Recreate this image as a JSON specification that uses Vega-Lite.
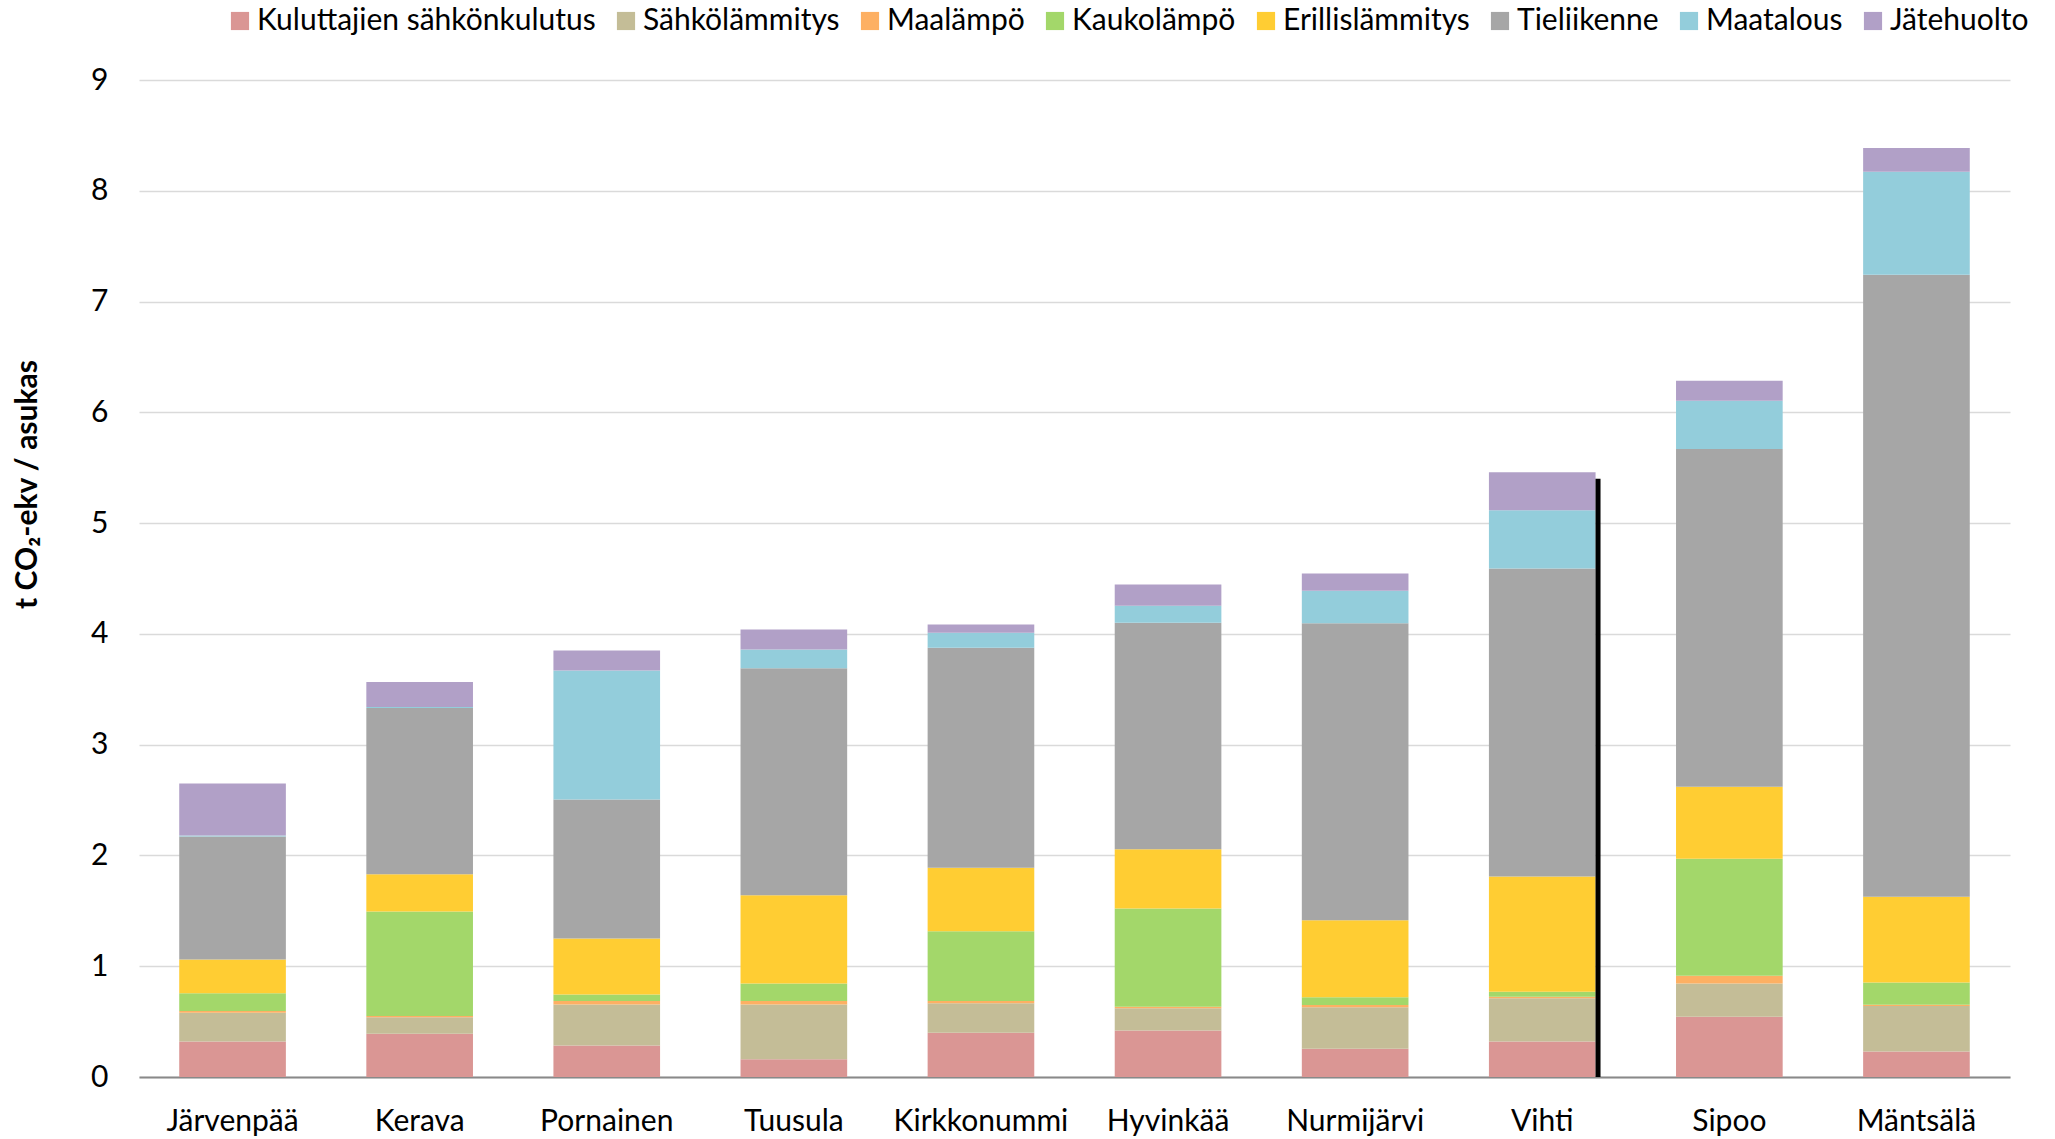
{
  "$schema": "https://vega.github.io/schema/vega-lite/v6.json",
  "autosize": {"type": "none"},
  "width": 1871,
  "height": 997,
  "padding": {"left": 139, "top": 80, "right": 45, "bottom": 62},
  "background": "white",
  "config": {
    "font": "Lato",
    "view": {"stroke": null},
    "axis": {"labelFont": "Lato", "titleFont": "Lato", "labelColor": "#000000", "titleColor": "#000000"},
    "legend": {"labelFont": "Lato"}
  },
  "datasets": {
    "paastot": [
      {"kunta": "Järvenpää", "sektori": "Kuluttajien sähkönkulutus", "jarj": 1, "arvo": 0.32},
      {"kunta": "Järvenpää", "sektori": "Sähkölämmitys", "jarj": 2, "arvo": 0.26},
      {"kunta": "Järvenpää", "sektori": "Maalämpö", "jarj": 3, "arvo": 0.015},
      {"kunta": "Järvenpää", "sektori": "Kaukolämpö", "jarj": 4, "arvo": 0.16},
      {"kunta": "Järvenpää", "sektori": "Erillislämmitys", "jarj": 5, "arvo": 0.305},
      {"kunta": "Järvenpää", "sektori": "Tieliikenne", "jarj": 6, "arvo": 1.11},
      {"kunta": "Järvenpää", "sektori": "Maatalous", "jarj": 7, "arvo": 0.01},
      {"kunta": "Järvenpää", "sektori": "Jätehuolto", "jarj": 8, "arvo": 0.47},
      {"kunta": "Kerava", "sektori": "Kuluttajien sähkönkulutus", "jarj": 1, "arvo": 0.39},
      {"kunta": "Kerava", "sektori": "Sähkölämmitys", "jarj": 2, "arvo": 0.15},
      {"kunta": "Kerava", "sektori": "Maalämpö", "jarj": 3, "arvo": 0.01},
      {"kunta": "Kerava", "sektori": "Kaukolämpö", "jarj": 4, "arvo": 0.945},
      {"kunta": "Kerava", "sektori": "Erillislämmitys", "jarj": 5, "arvo": 0.335},
      {"kunta": "Kerava", "sektori": "Tieliikenne", "jarj": 6, "arvo": 1.5},
      {"kunta": "Kerava", "sektori": "Maatalous", "jarj": 7, "arvo": 0.01},
      {"kunta": "Kerava", "sektori": "Jätehuolto", "jarj": 8, "arvo": 0.225},
      {"kunta": "Pornainen", "sektori": "Kuluttajien sähkönkulutus", "jarj": 1, "arvo": 0.285},
      {"kunta": "Pornainen", "sektori": "Sähkölämmitys", "jarj": 2, "arvo": 0.37},
      {"kunta": "Pornainen", "sektori": "Maalämpö", "jarj": 3, "arvo": 0.03},
      {"kunta": "Pornainen", "sektori": "Kaukolämpö", "jarj": 4, "arvo": 0.06},
      {"kunta": "Pornainen", "sektori": "Erillislämmitys", "jarj": 5, "arvo": 0.505},
      {"kunta": "Pornainen", "sektori": "Tieliikenne", "jarj": 6, "arvo": 1.255},
      {"kunta": "Pornainen", "sektori": "Maatalous", "jarj": 7, "arvo": 1.165},
      {"kunta": "Pornainen", "sektori": "Jätehuolto", "jarj": 8, "arvo": 0.18},
      {"kunta": "Tuusula", "sektori": "Kuluttajien sähkönkulutus", "jarj": 1, "arvo": 0.16},
      {"kunta": "Tuusula", "sektori": "Sähkölämmitys", "jarj": 2, "arvo": 0.495},
      {"kunta": "Tuusula", "sektori": "Maalämpö", "jarj": 3, "arvo": 0.03},
      {"kunta": "Tuusula", "sektori": "Kaukolämpö", "jarj": 4, "arvo": 0.16},
      {"kunta": "Tuusula", "sektori": "Erillislämmitys", "jarj": 5, "arvo": 0.795},
      {"kunta": "Tuusula", "sektori": "Tieliikenne", "jarj": 6, "arvo": 2.05},
      {"kunta": "Tuusula", "sektori": "Maatalous", "jarj": 7, "arvo": 0.17},
      {"kunta": "Tuusula", "sektori": "Jätehuolto", "jarj": 8, "arvo": 0.18},
      {"kunta": "Kirkkonummi", "sektori": "Kuluttajien sähkönkulutus", "jarj": 1, "arvo": 0.4},
      {"kunta": "Kirkkonummi", "sektori": "Sähkölämmitys", "jarj": 2, "arvo": 0.265},
      {"kunta": "Kirkkonummi", "sektori": "Maalämpö", "jarj": 3, "arvo": 0.02},
      {"kunta": "Kirkkonummi", "sektori": "Kaukolämpö", "jarj": 4, "arvo": 0.63},
      {"kunta": "Kirkkonummi", "sektori": "Erillislämmitys", "jarj": 5, "arvo": 0.575},
      {"kunta": "Kirkkonummi", "sektori": "Tieliikenne", "jarj": 6, "arvo": 1.985},
      {"kunta": "Kirkkonummi", "sektori": "Maatalous", "jarj": 7, "arvo": 0.135},
      {"kunta": "Kirkkonummi", "sektori": "Jätehuolto", "jarj": 8, "arvo": 0.075},
      {"kunta": "Hyvinkää", "sektori": "Kuluttajien sähkönkulutus", "jarj": 1, "arvo": 0.42},
      {"kunta": "Hyvinkää", "sektori": "Sähkölämmitys", "jarj": 2, "arvo": 0.2},
      {"kunta": "Hyvinkää", "sektori": "Maalämpö", "jarj": 3, "arvo": 0.015},
      {"kunta": "Hyvinkää", "sektori": "Kaukolämpö", "jarj": 4, "arvo": 0.885},
      {"kunta": "Hyvinkää", "sektori": "Erillislämmitys", "jarj": 5, "arvo": 0.535},
      {"kunta": "Hyvinkää", "sektori": "Tieliikenne", "jarj": 6, "arvo": 2.045},
      {"kunta": "Hyvinkää", "sektori": "Maatalous", "jarj": 7, "arvo": 0.155},
      {"kunta": "Hyvinkää", "sektori": "Jätehuolto", "jarj": 8, "arvo": 0.19},
      {"kunta": "Nurmijärvi", "sektori": "Kuluttajien sähkönkulutus", "jarj": 1, "arvo": 0.255},
      {"kunta": "Nurmijärvi", "sektori": "Sähkölämmitys", "jarj": 2, "arvo": 0.375},
      {"kunta": "Nurmijärvi", "sektori": "Maalämpö", "jarj": 3, "arvo": 0.02},
      {"kunta": "Nurmijärvi", "sektori": "Kaukolämpö", "jarj": 4, "arvo": 0.07},
      {"kunta": "Nurmijärvi", "sektori": "Erillislämmitys", "jarj": 5, "arvo": 0.695},
      {"kunta": "Nurmijärvi", "sektori": "Tieliikenne", "jarj": 6, "arvo": 2.68},
      {"kunta": "Nurmijärvi", "sektori": "Maatalous", "jarj": 7, "arvo": 0.295},
      {"kunta": "Nurmijärvi", "sektori": "Jätehuolto", "jarj": 8, "arvo": 0.155},
      {"kunta": "Vihti", "sektori": "Kuluttajien sähkönkulutus", "jarj": 1, "arvo": 0.32},
      {"kunta": "Vihti", "sektori": "Sähkölämmitys", "jarj": 2, "arvo": 0.39},
      {"kunta": "Vihti", "sektori": "Maalämpö", "jarj": 3, "arvo": 0.015},
      {"kunta": "Vihti", "sektori": "Kaukolämpö", "jarj": 4, "arvo": 0.045},
      {"kunta": "Vihti", "sektori": "Erillislämmitys", "jarj": 5, "arvo": 1.04},
      {"kunta": "Vihti", "sektori": "Tieliikenne", "jarj": 6, "arvo": 2.78},
      {"kunta": "Vihti", "sektori": "Maatalous", "jarj": 7, "arvo": 0.525},
      {"kunta": "Vihti", "sektori": "Jätehuolto", "jarj": 8, "arvo": 0.345},
      {"kunta": "Sipoo", "sektori": "Kuluttajien sähkönkulutus", "jarj": 1, "arvo": 0.545},
      {"kunta": "Sipoo", "sektori": "Sähkölämmitys", "jarj": 2, "arvo": 0.3},
      {"kunta": "Sipoo", "sektori": "Maalämpö", "jarj": 3, "arvo": 0.07},
      {"kunta": "Sipoo", "sektori": "Kaukolämpö", "jarj": 4, "arvo": 1.055},
      {"kunta": "Sipoo", "sektori": "Erillislämmitys", "jarj": 5, "arvo": 0.65},
      {"kunta": "Sipoo", "sektori": "Tieliikenne", "jarj": 6, "arvo": 3.05},
      {"kunta": "Sipoo", "sektori": "Maatalous", "jarj": 7, "arvo": 0.435},
      {"kunta": "Sipoo", "sektori": "Jätehuolto", "jarj": 8, "arvo": 0.18},
      {"kunta": "Mäntsälä", "sektori": "Kuluttajien sähkönkulutus", "jarj": 1, "arvo": 0.23},
      {"kunta": "Mäntsälä", "sektori": "Sähkölämmitys", "jarj": 2, "arvo": 0.41},
      {"kunta": "Mäntsälä", "sektori": "Maalämpö", "jarj": 3, "arvo": 0.012},
      {"kunta": "Mäntsälä", "sektori": "Kaukolämpö", "jarj": 4, "arvo": 0.2},
      {"kunta": "Mäntsälä", "sektori": "Erillislämmitys", "jarj": 5, "arvo": 0.775},
      {"kunta": "Mäntsälä", "sektori": "Tieliikenne", "jarj": 6, "arvo": 5.615},
      {"kunta": "Mäntsälä", "sektori": "Maatalous", "jarj": 7, "arvo": 0.93},
      {"kunta": "Mäntsälä", "sektori": "Jätehuolto", "jarj": 8, "arvo": 0.215}
    ],
    "korostus": [
      {"kunta": "Vihti", "ala": 0, "yla": 5.4}
    ]
  },
  "layer": [
    {
      "data": {"name": "paastot"},
      "mark": {"type": "bar"},
      "encoding": {
        "x": {
          "field": "kunta",
          "type": "nominal",
          "sort": ["Järvenpää", "Kerava", "Pornainen", "Tuusula", "Kirkkonummi", "Hyvinkää", "Nurmijärvi", "Vihti", "Sipoo", "Mäntsälä"],
          "scale": {
            "domain": ["Järvenpää", "Kerava", "Pornainen", "Tuusula", "Kirkkonummi", "Hyvinkää", "Nurmijärvi", "Vihti", "Sipoo", "Mäntsälä"],
            "paddingInner": 0.43,
            "paddingOuter": 0.215
          },
          "axis": {
            "title": null,
            "labelAngle": 0,
            "labelFontSize": 30,
            "labelPadding": 29,
            "labelBaseline": "top",
            "ticks": false,
            "tickSize": 0,
            "domain": true,
            "domainColor": "#898989",
            "domainWidth": 2,
            "grid": false
          }
        },
        "y": {
          "field": "arvo",
          "type": "quantitative",
          "aggregate": "sum",
          "stack": "zero",
          "scale": {"domain": [0, 9], "nice": false},
          "axis": {
            "title": "t CO₂-ekv / asukas",
            "titleFontSize": 30,
            "titleFontWeight": "bold",
            "titleAngle": 270,
            "titleAlign": "center",
            "titleBaseline": "middle",
            "titleX": -112,
            "titleY": 404,
            "values": [0, 1, 2, 3, 4, 5, 6, 7, 8, 9],
            "format": "d",
            "labelFontSize": 30,
            "labelPadding": 31,
            "ticks": false,
            "tickSize": 0,
            "domain": false,
            "grid": true,
            "gridColor": "#DADADA",
            "gridWidth": 1.5
          }
        },
        "color": {
          "field": "sektori",
          "type": "nominal",
          "scale": {
            "domain": ["Kuluttajien sähkönkulutus", "Sähkölämmitys", "Maalämpö", "Kaukolämpö", "Erillislämmitys", "Tieliikenne", "Maatalous", "Jätehuolto"],
            "range": ["#DA9694", "#C4BD97", "#FDB063", "#A3D76A", "#FFCD33", "#A6A6A6", "#93CDDB", "#B1A0C7"]
          },
          "legend": {
            "title": null,
            "orient": "none",
            "direction": "horizontal",
            "columns": 8,
            "legendX": 86,
            "legendY": -74,
            "padding": 0,
            "symbolType": "square",
            "symbolSize": 330,
            "symbolStrokeWidth": 0,
            "symbolOpacity": 1,
            "labelFontSize": 30,
            "labelColor": "#000000",
            "labelOffset": 2,
            "labelLimit": 600,
            "columnPadding": 15
          }
        },
        "order": {"field": "jarj", "type": "quantitative", "sort": "ascending"}
      }
    },
    {
      "data": {"name": "korostus"},
      "mark": {"type": "rule", "color": "#000000", "strokeWidth": 5},
      "encoding": {
        "x": {
          "field": "kunta",
          "type": "nominal",
          "bandPosition": 1.023,
          "sort": ["Järvenpää", "Kerava", "Pornainen", "Tuusula", "Kirkkonummi", "Hyvinkää", "Nurmijärvi", "Vihti", "Sipoo", "Mäntsälä"],
          "scale": {
            "domain": ["Järvenpää", "Kerava", "Pornainen", "Tuusula", "Kirkkonummi", "Hyvinkää", "Nurmijärvi", "Vihti", "Sipoo", "Mäntsälä"]
          }
        },
        "y": {"field": "ala", "type": "quantitative"},
        "y2": {"field": "yla"}
      }
    }
  ]
}
